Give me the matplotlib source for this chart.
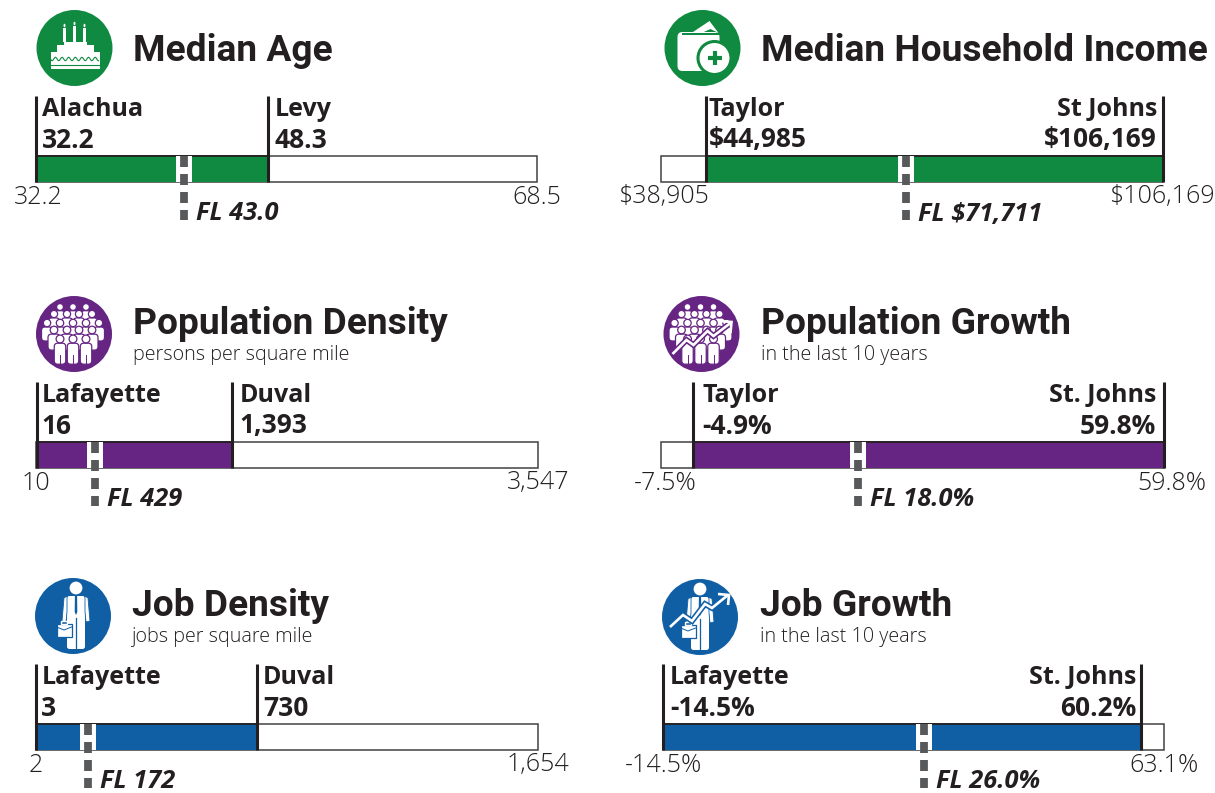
import matplotlib
matplotlib.use("Agg")
import matplotlib.pyplot as plt
from matplotlib.patches import Circle, Rectangle, FancyBboxPatch, Polygon, Ellipse
import numpy as np

plt.rcParams['lines.scale_dashes'] = False
FONT = 'Open Sans'
plt.rcParams['font.family'] = [FONT, 'DejaVu Sans']

DARK = '#231f20'
GRAY = '#58595b'
GREEN = '#118a41'
PURPLE = '#662583'
BLUE = '#105fa5'

titles = ['Median Age', 'Median Household Income', 'Population Density',
          'Population Growth', 'Job Density', 'Job Growth']
subtitles = ['', '', 'persons per square mile', 'in the last 10 years',
             'jobs per square mile', 'in the last 10 years']
low_names = ['Alachua', 'Taylor', 'Lafayette', 'Taylor', 'Lafayette', 'Lafayette']
high_names = ['Levy', 'St Johns', 'Duval', 'St. Johns', 'Duval', 'St. Johns']
low_labels = ['32.2', '$44,985', '16', '-4.9%', '3', '-14.5%']
high_labels = ['48.3', '$106,169', '1,393', '59.8%', '730', '60.2%']
fl_labels = ['FL 43.0', 'FL $71,711', 'FL 429', 'FL 18.0%', 'FL 172', 'FL 26.0%']
min_labels = ['32.2', '$38,905', '10', '-7.5%', '2', '-14.5%']
max_labels = ['68.5', '$106,169', '3,547', '59.8%', '1,654', '63.1%']

# Values as drawn in the picture (two panels place their marks off the printed figure)
axis_min = [32.2, 38905, 10, -7.5, 2, -14.5]
axis_max = [68.5, 106169, 3547, 59.8, 1654, 63.1]
low_values = [32.2, 44985, 16, -3.2, 3, -14.5]
high_values = [49.0, 106169, 1393, 59.8, 730, 59.6]
fl_values = [42.9, 71711, 429, 18.9, 172, 26.0]

colors = [GREEN, GREEN, PURPLE, PURPLE, BLUE, BLUE]
right_aligned_high = [False, True, False, True, False, True]
# layout in pixels: bar left, bar right, bar top
bar_boxes = [(36, 537, 156), (661, 1163, 156), (36, 538, 442),
             (661, 1164, 442), (36, 538, 724), (663, 1164, 724)]
low_dx = [6, 2, 5, 9, 5, 7]
high_dx = [7, -6, 7, -8, 6, -5]
min_centers = [2, 2, 0, 4, 0, 0]
max_centers = [0, -1, 0, 8, 0, 0]
icon_centers = [(74.5, 48), (702.5, 48), (74, 334), (701.5, 334), (73, 616), (700, 617)]
title_x = [133, 761, 133, 761, 132, 760]
title_y = [51, 51, 324, 324, 606, 606]
sub_y = [0, 0, 355, 355, 637, 637]
BAR_H = 26

W, H = 1215, 793
fig = plt.figure(figsize=(W / 100, H / 100), dpi=100, facecolor='white')
page = fig.add_axes([0, 0, 1, 1], zorder=3)
page.set_xlim(0, W)
page.set_ylim(H, 0)
page.axis('off')
page.patch.set_alpha(0)


def person(x, y, r, bw, bh, bg, z):
    page.add_patch(FancyBboxPatch((x - bw / 2, y + r + 0.3), bw, bh, boxstyle='round,pad=0,rounding_size=3.5',
                                  fc='white', ec=bg, lw=0.9, zorder=z))
    page.add_patch(Circle((x, y), r, fc='white', ec=bg, lw=0.9, zorder=z))


def people(cx, cy, bg):
    rows = [(-27, [-14, -1, 12], 3.4, 10, 10),
            (-20, [-20, -7, 5, 18], 3.6, 11, 12),
            (-11, [-27, -14, -1, 12, 25], 3.7, 11, 14),
            (-4, [-20, -7, 5, 18], 3.8, 12, 16)]
    for z, (dy, xs, r, bw, bh) in enumerate(rows):
        for dx in xs:
            person(cx + dx, cy + dy, r, bw, bh, bg, 4 + z)
    for dx in (-14, -1, 12):
        person(cx + dx, cy + 5, 3.9, 11.5, 21, bg, 9)
        page.plot([cx + dx, cx + dx], [cy + 21, cy + 30], color=bg, lw=0.7, zorder=10)


def arrow(cx, cy, bg, xs, ys, head):
    xs, ys = np.array(xs), np.array(ys)
    page.plot(cx + xs, cy + ys, color=bg, lw=4.2, zorder=11, solid_joinstyle='miter', solid_capstyle='butt')
    page.plot(cx + xs, cy + ys, color='white', lw=1.9, zorder=12, solid_joinstyle='miter', solid_capstyle='butt')
    hx, hy = zip(*head)
    page.plot(cx + np.array(hx), cy + np.array(hy), color='white', lw=1.9, zorder=12, solid_joinstyle='miter', solid_capstyle='butt')


def man(cx, cy, bg):
    page.add_patch(Circle((cx, cy - 28), 6.4, fc='white', ec='none', zorder=6))
    page.add_patch(FancyBboxPatch((cx - 9, cy - 20), 18, 53, boxstyle='round,pad=0,rounding_size=2.5',
                                  fc='white', ec='none', zorder=6))
    for s in (-1, 1):
        page.add_patch(Polygon([[cx + s * 9, cy - 20], [cx + s * 12, cy - 18], [cx + s * 14, cy + 5], [cx + s * 10, cy + 6], [cx + s * 9, cy - 4]],
                               fc='white', ec=bg, lw=0.6, zorder=6))
    page.plot([cx, cx], [cy + 2, cy + 33], color=bg, lw=0.9, zorder=7)
    page.add_patch(Polygon([[cx - 1.1, cy - 20], [cx + 1.1, cy - 20], [cx + 1.3, cy - 4], [cx, cy - 1], [cx - 1.3, cy - 4]], fc=bg, ec='none', zorder=7))
    page.add_patch(Rectangle((cx - 19.5, cy + 7.5), 15, 13, fc='white', ec=bg, lw=0.9, zorder=8))
    page.add_patch(Rectangle((cx - 15, cy + 4.5), 6, 3, fc='none', ec='white', lw=1, zorder=8))
    page.plot([cx - 19.5, cx - 12, cx - 4.5], [cy + 11, cy + 14, cy + 11], color=bg, lw=0.7, zorder=9)


def icon(i, cx, cy, c):
    page.add_patch(Circle((cx, cy), 38, fc=c, ec='none', zorder=2))
    if i == 0:
        for dx, hh in [(-10, 14), (0, 16), (10, 14)]:
            page.add_patch(Rectangle((cx + dx - 1.4, cy - 6 - hh), 2.8, hh, fc='white', ec='none', zorder=4))
            page.add_patch(Ellipse((cx + dx, cy - 6 - hh - 2.5), 2, 3.5, fc='white', ec='none', zorder=4))
        page.add_patch(Rectangle((cx - 11, cy - 6), 23, 3.5, fc='white', ec='none', zorder=4))
        page.add_patch(Rectangle((cx - 18, cy - 3), 37, 7, fc='white', ec='none', zorder=4))
        page.add_patch(Rectangle((cx - 24, cy + 4), 49, 17, fc='white', ec='none', zorder=4))
        t = np.arange(0, 49, 1.0)
        page.plot(cx - 24 + t, cy + 11 + 1.8 * np.sin(t * 0.95), color=c, lw=0.8, zorder=5)
        page.plot([cx - 24, cx + 25], [cy + 16.5, cy + 16.5], color=c, lw=0.8, zorder=5)
    elif i == 1:
        page.add_patch(Polygon([[cx - 11, cy - 15], [cx + 7, cy - 27], [cx + 16, cy - 15], [cx + 8, cy - 19], [cx - 1, cy - 15]], fc='white', ec='none', zorder=4))
        page.add_patch(FancyBboxPatch((cx - 25, cy - 16), 42, 39, boxstyle='round,pad=0,rounding_size=5',
                                      fc='white', ec='none', zorder=4))
        page.add_patch(Rectangle((cx - 21, cy - 15.5), 38, 2.2, fc=c, ec='none', zorder=5))
        page.add_patch(Circle((cx + 12, cy + 10), 16.5, fc='white', ec=c, lw=2.2, zorder=6))
        page.plot([cx + 5, cx + 19], [cy + 10, cy + 10], color=c, lw=3, zorder=8, solid_capstyle='butt')
        page.plot([cx + 12, cx + 12], [cy + 3, cy + 17], color=c, lw=3, zorder=8, solid_capstyle='butt')
    elif i == 2:
        people(cx, cy, c)
    elif i == 3:
        people(cx, cy, c)
        arrow(cx, cy, c, [-29, -15, -8, 6, 12, 29], [20, 6, 11, -3, 2, -11],
              [(18, -13), (30, -12), (29, -1)])
    elif i == 4:
        man(cx + 3, cy, c)
    else:
        man(cx, cy, c)
        arrow(cx, cy, c, [-30, -17, -8, 5, 12, 28], [10, -2, 4, -13, -9, -22],
              [(18, -23), (29, -22), (28, -12)])


for i in range(6):
    x0, x1, top = bar_boxes[i]
    ax = fig.add_axes([x0 / W, 1 - (top + BAR_H) / H, (x1 - x0) / W, BAR_H / H], zorder=2)
    ax.set_xlim(axis_min[i], axis_max[i])
    ax.set_ylim(BAR_H, 0)   # y measured in pixels below the bar's top edge
    ax.axis('off')
    c = colors[i]
    ax.barh(BAR_H / 2, axis_max[i] - axis_min[i], left=axis_min[i], height=BAR_H,
            fc='white', ec='#414042', lw=1.1, clip_on=False, zorder=1)
    ax.barh(BAR_H / 2, high_values[i] - low_values[i], left=low_values[i], height=BAR_H,
            fc=c, ec='none', zorder=2)
    ax.plot([low_values[i], high_values[i]], [0, 0], color=DARK, lw=1.3, clip_on=False, zorder=3)
    for v in (low_values[i], high_values[i]):
        ax.plot([v, v], [-60, BAR_H], color=DARK, lw=2.2, clip_on=False, zorder=4, solid_capstyle='butt')
    fl = fl_values[i]
    ax.plot([fl, fl], [0, BAR_H], color='white', lw=11.5, zorder=5, solid_capstyle='butt')
    ax.plot([fl, fl], [0, 64], color=GRAY, lw=5.6, clip_on=False, zorder=6,
            dashes=(11 * 0.72, 7 * 0.72), dash_capstyle='butt', solid_capstyle='butt')

    def put(s, v, dx, y, **kw):
        ax.annotate(s, xy=(v, y), xycoords='data', xytext=(dx, 0), textcoords='offset pixels',
                    annotation_clip=False, **kw)

    name_kw = dict(fontsize=18, fontweight='bold', color=DARK, va='center')
    value_kw = dict(fontsize=19, fontweight='bold', color=DARK, va='center')
    put(low_names[i], low_values[i], low_dx[i], -47, ha='left', **name_kw)
    put(low_labels[i], low_values[i], low_dx[i], -16, ha='left', **value_kw)
    ha = 'right' if right_aligned_high[i] else 'left'
    put(high_names[i], high_values[i], high_dx[i], -47, ha=ha, **name_kw)
    put(high_labels[i], high_values[i], high_dx[i], -16, ha=ha, **value_kw)
    tick_kw = dict(fontsize=18, fontweight='light', color=DARK, va='center', ha='center')
    put(min_labels[i], axis_min[i], min_centers[i], 41, **tick_kw)
    put(max_labels[i], axis_max[i], max_centers[i], 41, **tick_kw)
    put(fl_labels[i], fl, 12, 58, fontsize=18.3, fontweight='bold', fontstyle='italic',
        color=DARK, va='center', ha='left')

    cx, cy = icon_centers[i]
    icon(i, cx, cy, c)
    page.text(title_x[i], title_y[i], titles[i], fontsize=26.7, fontweight='bold', family='Roboto',
              color=DARK, va='center', ha='left')
    if subtitles[i]:
        page.text(title_x[i], sub_y[i], subtitles[i], fontsize=14.2, fontweight='light',
                  color=DARK, va='center', ha='left')

fig.savefig('out.png', dpi=100, facecolor='white')
